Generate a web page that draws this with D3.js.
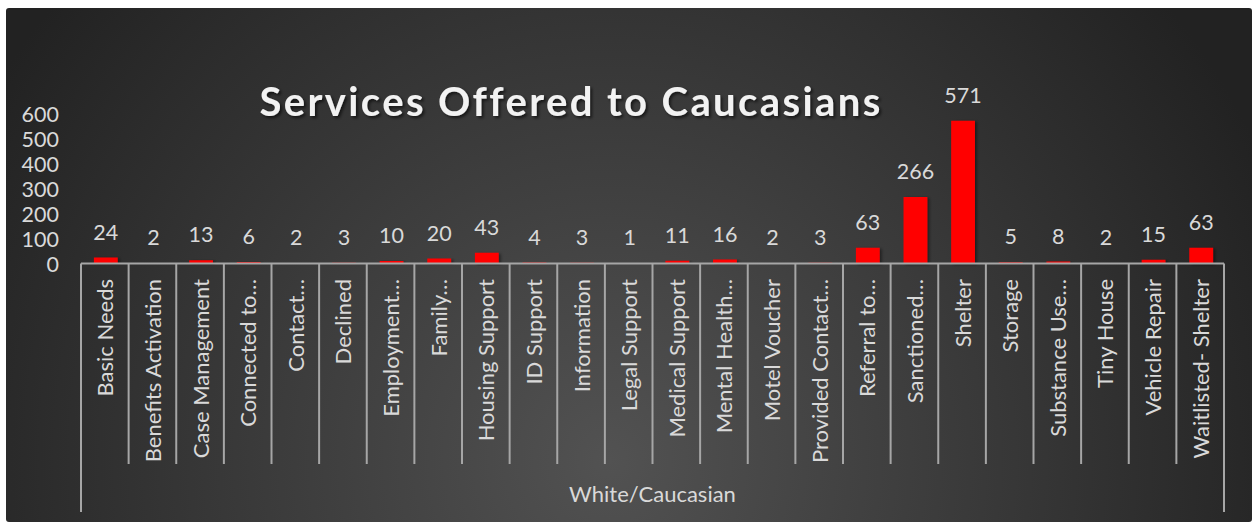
<!DOCTYPE html>
<html><head><meta charset="utf-8">
<script src="https://cdn.jsdelivr.net/npm/d3@7"></script>
<style>html,body{margin:0;padding:0;background:#fff;}svg{display:block;}</style>
</head><body>
<script>
const categories = ["Basic Needs","Benefits Activation","Case Management","Connected to…","Contact…","Declined","Employment…","Family…","Housing Support","ID Support","Information","Legal Support","Medical Support","Mental Health…","Motel Voucher","Provided Contact…","Referral to…","Sanctioned…","Shelter","Storage","Substance Use…","Tiny House","Vehicle Repair","Waitlisted- Shelter"];
const values = [24,2,13,6,2,3,10,20,43,4,3,1,11,16,2,3,63,266,571,5,8,2,15,63];
const yTicks = [0,100,200,300,400,500,600];
const groupLabel = "White/Caucasian";
const title = "Services Offered to Caucasians";

const W = 1252, H = 523;
const FONT = "Lato, 'Open Sans', sans-serif";
const svg = d3.select("body").append("svg").attr("width", W).attr("height", H);
const defs = svg.append("defs");
const rg = defs.append("radialGradient").attr("id","bg").attr("gradientUnits","userSpaceOnUse")
  .attr("cx",610).attr("cy",460).attr("r",720);
rg.append("stop").attr("offset","0").attr("stop-color","#525252");
rg.append("stop").attr("offset","1").attr("stop-color","#222222");
const sh = defs.append("filter").attr("id","sh").attr("x","-20%").attr("y","-20%").attr("width","150%").attr("height","150%");
sh.append("feDropShadow").attr("dx",2).attr("dy",2).attr("stdDeviation",1.5).attr("flood-color","#000").attr("flood-opacity",0.6);
const bsh = defs.append("filter").attr("id","bsh").attr("x","-30%").attr("y","-10%").attr("width","160%").attr("height","130%");
bsh.append("feDropShadow").attr("dx",2).attr("dy",1).attr("stdDeviation",1.5).attr("flood-color","#000").attr("flood-opacity",0.45);

svg.append("rect").attr("x",6).attr("y",8).attr("width",W-6).attr("height",H-9).attr("rx",3).attr("fill","url(#bg)");

const x0 = 81, x1 = 1224, y0 = 263.5, yTop = 113.5;
const x = d3.scaleBand().domain(categories).range([x0,x1]).paddingInner(0.5).paddingOuter(0.25);
const bandStep = (x1-x0)/categories.length;
const y = d3.scaleLinear().domain([0,600]).range([y0,yTop]);

// Title
svg.append("text").attr("x",571).attr("y",116).attr("text-anchor","middle")
  .attr("font-family",FONT).attr("font-weight","bold").attr("font-size",40).attr("letter-spacing",2.4)
  .attr("fill","#f2f2f2").attr("filter","url(#sh)").text(title);

// y axis labels
const yAxis = d3.axisLeft(y).tickValues(yTicks).tickSize(0).tickPadding(0);
const yg = svg.append("g").attr("transform",`translate(59,0)`).call(yAxis);
yg.select(".domain").remove();
yg.selectAll("text").attr("font-family",FONT).attr("font-size",21.5).attr("fill","#d9d9d9").attr("dy","0.36em");

// bars
svg.append("g").selectAll("rect").data(values).join("rect")
  .attr("x",(d,i)=>x(categories[i])+1).attr("width",x.bandwidth())
  .attr("y",d=>y(d)).attr("height",d=>y0-y(d))
  .attr("fill","#ff0000").attr("filter","url(#bsh)");

// data labels
svg.append("g").selectAll("text").data(values).join("text")
  .attr("x",(d,i)=>x(categories[i])+x.bandwidth()/2+1).attr("y",d=>y(d)-18)
  .attr("text-anchor","middle").attr("font-family",FONT).attr("font-size",21.5).attr("fill","#d9d9d9")
  .text(d=>d);

// category axis lines
const axg = svg.append("g").attr("stroke","#a6a6a6").attr("stroke-width",2);
axg.append("line").attr("x1",x0).attr("x2",x1).attr("y1",y0).attr("y2",y0);
const bounds = d3.range(categories.length+1).map(i=>x0+i*bandStep);
axg.selectAll("line.sep").data(bounds).join("line").attr("class","sep")
  .attr("x1",d=>d).attr("x2",d=>d).attr("y1",y0)
  .attr("y2",(d,i)=> (i===0||i===categories.length) ? 512 : 464);

// category labels rotated
svg.append("g").selectAll("text").data(categories).join("text")
  .attr("transform",(d,i)=>`translate(${x0+(i+0.5)*bandStep+8.5},279) rotate(-90)`)
  .attr("text-anchor","end").attr("font-family",FONT).attr("font-size",22).attr("fill","#d9d9d9")
  .text(d=>d);

svg.append("text").attr("x",(x0+x1)/2).attr("y",502).attr("text-anchor","middle")
  .attr("font-family",FONT).attr("font-size",22).attr("fill","#d9d9d9").text(groupLabel);
</script>
</body></html>
